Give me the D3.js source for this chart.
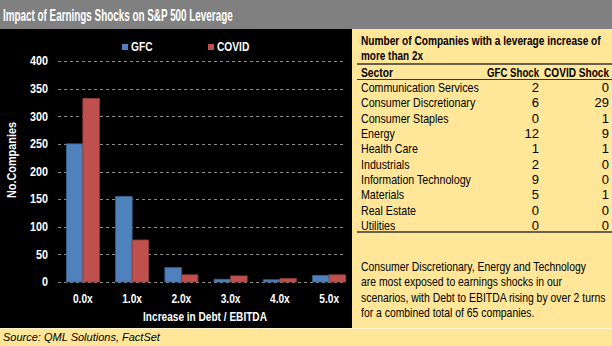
<!DOCTYPE html>
<html>
<head>
<meta charset="utf-8">
<script src="https://cdn.jsdelivr.net/npm/d3@7"></script>
<style>
  body { margin: 0; background: #fff; }
  svg text { font-family: "Liberation Sans", Arial, sans-serif; }
</style>
</head>
<body>
<div id="chart"></div>
<script>
// chart data
var categories = ["0.0x", "1.0x", "2.0x", "3.0x", "4.0x", "5.0x"];
var gfc = [250, 155, 26, 5, 4, 12];
var covid = [332, 76, 13, 11, 6, 13];
var seriesNames = ["GFC", "COVID"];
var yTicks = [0, 50, 100, 150, 200, 250, 300, 350, 400];

// table data
var sectors = ["Communication Services", "Consumer Discretionary", "Consumer Staples", "Energy",
    "Health Care", "Industrials", "Information Technology", "Materials", "Real Estate", "Utilities"];
var gfcShock = [2, 6, 0, 12, 1, 2, 9, 5, 0, 0];
var covidShock = [0, 29, 1, 9, 1, 0, 0, 1, 0, 0];
var noteLines = ["Consumer Discretionary, Energy and Technology",
    "are most exposed to earnings shocks in our",
    "scenarios, with Debt to EBITDA rising by over 2 turns",
    "for a combined total of 65 companies."];

var W = 612, H = 346;
var blue = "#4f81bd", red = "#c0504d", yellow = "#ffe699";

// the original uses a narrow font: scale text horizontally around its anchor
function squeeze(sel, k, pre) {
    sel.each(function() {
        var t = d3.select(this);
        var tx = +t.attr("x") || 0, ty = +t.attr("y") || 0;
        t.attr("x", 0).attr("y", 0)
         .attr("transform", (pre || "") + "translate(" + tx + "," + ty + ") scale(" + k + ",1)");
    });
    return sel;
}
function fitTo(sel, w, pre) {
    var k = w / sel.node().getComputedTextLength();
    return squeeze(sel, k, pre);
}

var svg = d3.select("#chart").append("svg")
    .attr("width", W).attr("height", H);

// backgrounds
svg.append("rect").attr("x", 0).attr("y", 0).attr("width", W).attr("height", H).attr("fill", yellow);
svg.append("rect").attr("x", 0).attr("y", 0).attr("width", W).attr("height", 29).attr("fill", "#808080");
svg.append("rect").attr("x", 0).attr("y", 29).attr("width", 352).attr("height", 299).attr("fill", "#000");
svg.append("line").attr("x1", 0).attr("x2", W).attr("y1", 328.5).attr("y2", 328.5)
    .attr("stroke", "#fff3c8").attr("stroke-width", 1);

fitTo(svg.append("text").attr("x", 3).attr("y", 20.5)
    .attr("fill", "#fff").attr("font-weight", "bold").attr("font-size", 16)
    .text("Impact of Earnings Shocks on S&P 500 Leverage"), 230);

// bar chart
var x = d3.scaleBand().domain(categories).range([58, 354]).paddingInner(0.33).paddingOuter(0.17);
var xs = d3.scaleBand().domain(seriesNames).range([0, x.bandwidth()]);
var y = d3.scaleLinear().domain([0, 400]).range([282, 61]);

var grid = svg.append("g");
grid.selectAll("line").data(yTicks).enter().append("line")
    .attr("x1", 58).attr("x2", 346)
    .attr("y1", function(d) { return Math.round(y(d)) + 0.5; })
    .attr("y2", function(d) { return Math.round(y(d)) + 0.5; })
    .attr("stroke", "#8c8c8c").attr("stroke-width", 1).attr("stroke-dasharray", "3,3");

var yAxis = svg.append("g").attr("transform", "translate(58,0)")
    .call(d3.axisLeft(y).tickValues(yTicks).tickSize(0).tickPadding(10));
yAxis.select(".domain").remove();
yAxis.selectAll("text").attr("fill", "#fff").attr("font-size", 12).attr("font-weight", "bold")
    .style("font-family", "'Liberation Sans', sans-serif");
squeeze(yAxis.selectAll("text"), 0.9);

var rows = categories.map(function(c, i) { return { c: c, v: [gfc[i], covid[i]] }; });
var grp = svg.selectAll("g.cat").data(rows).enter().append("g")
    .attr("class", "cat")
    .attr("transform", function(d) { return "translate(" + x(d.c) + ",0)"; });
grp.selectAll("rect").data(function(d) { return d.v.map(function(v, j) { return { s: seriesNames[j], v: v }; }); })
    .enter().append("rect")
    .attr("x", function(d) { return xs(d.s); })
    .attr("width", xs.bandwidth())
    .attr("y", function(d) { return y(d.v); })
    .attr("height", function(d) { return y(0) - y(d.v); })
    .attr("fill", function(d) { return d.s === "GFC" ? blue : red; })
    .attr("stroke", function(d) { return d.s === "GFC" ? "#3a6491" : "#93403e"; })
    .attr("stroke-width", 0.8);

var xAxis = svg.append("g").attr("transform", "translate(0,282)")
    .call(d3.axisBottom(x).tickSize(0).tickPadding(12));
xAxis.select(".domain").remove();
xAxis.selectAll("text").attr("fill", "#fff").attr("font-size", 12).attr("font-weight", "bold")
    .style("font-family", "'Liberation Sans', sans-serif");
squeeze(xAxis.selectAll("text"), 0.85);

fitTo(svg.append("text").attr("x", 205).attr("y", 321).attr("text-anchor", "middle")
    .attr("fill", "#fff").attr("font-weight", "bold").attr("font-size", 12)
    .text("Increase in Debt / EBITDA"), 124);
fitTo(svg.append("text").attr("text-anchor", "middle")
    .attr("fill", "#fff").attr("font-weight", "bold").attr("font-size", 12)
    .text("No.Companies"), 76, "translate(16,160) rotate(-90) ");

// legend
var legX = [122, 208];
seriesNames.forEach(function(s, i) {
    svg.append("rect").attr("x", legX[i]).attr("y", 44).attr("width", 6).attr("height", 6)
        .attr("fill", i === 0 ? blue : red);
    squeeze(svg.append("text").attr("x", legX[i] + 9).attr("y", 50.5)
        .attr("fill", "#fff").attr("font-weight", "bold").attr("font-size", 12)
        .text(s), 0.85);
});

// table
var tx = 361, c1 = 539, c2 = 609;
var tb = svg.append("g").attr("fill", "#000").attr("font-size", 13);
fitTo(tb.append("text").attr("x", tx).attr("y", 45).attr("font-weight", "bold")
    .text("Number of Companies with a leverage increase of"), 240);
fitTo(tb.append("text").attr("x", tx).attr("y", 60).attr("font-weight", "bold").text("more than 2x"), 62);
fitTo(tb.append("text").attr("x", tx).attr("y", 76.5).attr("font-weight", "bold").text("Sector"), 32);
fitTo(tb.append("text").attr("x", c1).attr("y", 76.5).attr("font-weight", "bold").attr("text-anchor", "end").text("GFC Shock"), 52);
fitTo(tb.append("text").attr("x", c2).attr("y", 76.5).attr("font-weight", "bold").attr("text-anchor", "end").text("COVID Shock"), 65);

svg.append("line").attr("x1", 357).attr("x2", W).attr("y1", 64).attr("y2", 64).attr("stroke", "#333").attr("stroke-width", 1.5);
svg.append("line").attr("x1", 357).attr("x2", W).attr("y1", 79.5).attr("y2", 79.5).attr("stroke", "#333").attr("stroke-width", 1);
svg.append("line").attr("x1", 357).attr("x2", W).attr("y1", 232).attr("y2", 232).attr("stroke", "#333").attr("stroke-width", 1.5);

var ry = d3.scaleBand().domain(sectors).range([80, 233]);
var tr = tb.selectAll("g.row").data(sectors).enter().append("g")
    .attr("transform", function(d) { return "translate(0," + (ry(d) + ry.bandwidth() / 2 + 4.5) + ")"; });
squeeze(tr.append("text").attr("x", tx).text(function(d) { return d; }), 0.82);
tr.append("text").attr("x", c1).attr("text-anchor", "end").text(function(d, i) { return gfcShock[i]; });
tr.append("text").attr("x", c2).attr("text-anchor", "end").text(function(d, i) { return covidShock[i]; });

squeeze(tb.selectAll("text.note").data(noteLines).enter().append("text")
    .attr("class", "note").attr("x", tx)
    .attr("y", function(d, i) { return 270.5 + i * 15.6; })
    .text(function(d) { return d; }), 0.8);

svg.append("text").attr("x", 3).attr("y", 341).attr("font-size", 11).attr("font-style", "italic")
    .attr("fill", "#000").text("Source: QML Solutions, FactSet");
</script>
</body>
</html>
